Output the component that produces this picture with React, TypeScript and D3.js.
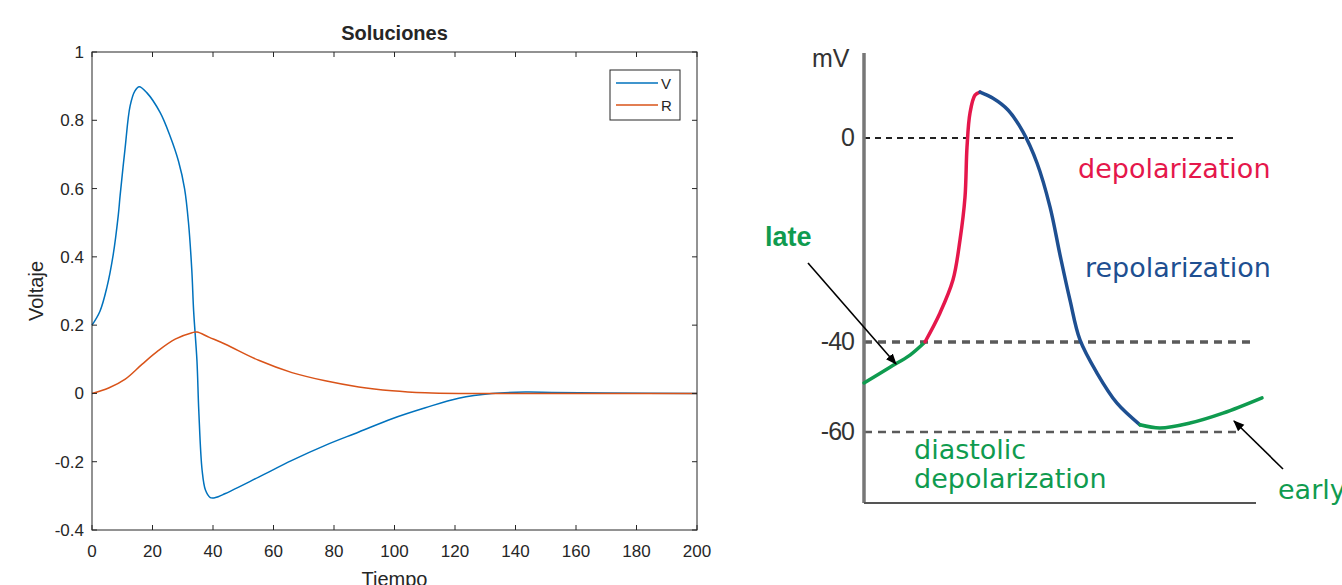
import React from "react";
import * as d3 from "d3";

// ---- left panel: Soluciones (V, R vs Tiempo) ----
const xTicks = [0, 20, 40, 60, 80, 100, 120, 140, 160, 180, 200];
const yTicks = [-0.4, -0.2, 0, 0.2, 0.4, 0.6, 0.8, 1];

const tV = [0, 2.6, 4.9, 7.0, 8.7, 9.3, 10.9, 12.6, 14.2, 15.6, 18.1, 22.5, 25.8, 28.6, 30.6, 31.9, 33.0, 33.6, 34.7, 35.3, 36.4, 37.5, 39.1, 40.8, 44.1, 55.1, 66.1, 77.1, 88.2, 99.2, 110.2, 121.2, 132.2, 143.3, 152, 170, 200];
const vValues = [0.2, 0.24, 0.31, 0.406, 0.523, 0.58, 0.715, 0.842, 0.886, 0.898, 0.881, 0.823, 0.754, 0.68, 0.6, 0.5, 0.36, 0.241, 0.095, -0.05, -0.225, -0.283, -0.305, -0.305, -0.293, -0.245, -0.196, -0.152, -0.113, -0.074, -0.042, -0.014, 0, 0.004, 0.003, 0.001, 0];

const tR = [0, 5.5, 11, 16.5, 22, 27.5, 33.1, 34.7, 38.6, 44.1, 55.1, 66.1, 77.1, 88.2, 99.2, 110.2, 121.2, 140, 200];
const rValues = [0, 0.016, 0.042, 0.085, 0.126, 0.159, 0.178, 0.18, 0.165, 0.144, 0.097, 0.061, 0.037, 0.019, 0.008, 0.002, 0, 0, 0];

const legendItems = ["V", "R"];
const seriesColors = ["#0072BD", "#D95319"];

// ---- right panel: action potential schematic ----
const mvTicks = [0, -40, -60];
const lateT = [0, 6.5, 11.5, 15.25];
const lateMv = [-49.1, -45.6, -42.9, -40];
const depolT = [15.25, 19, 22.25, 24, 25.25, 25.75, 26.5, 27.75, 29];
const depolMv = [-40, -34.3, -27.8, -20, -11.6, -1.8, 4.9, 8.4, 9.0];
const repolT = [29, 32.25, 36, 39.75, 43.25, 46.5, 49, 51.5, 54, 58.25, 63.25, 69];
const repolMv = [9.0, 7.8, 5.5, 1.2, -4.9, -13.5, -22.9, -31.8, -39.6, -46.9, -53.6, -58.4];
const earlyT = [69, 74, 81.5, 89.75, 99.5];
const earlyMv = [-58.4, -59.1, -58.0, -55.8, -52.4];

const RED = "#e5174b";
const BLUE = "#1e4f91";
const GREEN = "#0f9b4f";

const zip = (xs: number[], ys: number[]) => xs.map((x, i) => [x, ys[i]] as [number, number]);

const App = () => {
  // left axes
  const x = d3.scaleLinear().domain([0, 200]).range([92, 697]);
  const y = d3.scaleLinear().domain([-0.4, 1]).range([530, 52]);
  const line = d3
    .line<[number, number]>()
    .x((d) => x(d[0]))
    .y((d) => y(d[1]))
    .curve(d3.curveCatmullRom.alpha(0.5));
  const series = [zip(tV, vValues), zip(tR, rValues)];
  const [x0, x1] = x.range();
  const [yb, yt] = y.range();
  const tickLen = 5;
  const axisColor = "#262626";
  const font = "'Liberation Sans', Arial, sans-serif";

  // right schematic
  const xt = d3.scaleLinear().domain([0, 100]).range([864, 1264]);
  const ym = d3.scaleLinear().domain([-60, -40, 0]).range([432, 342, 138]);
  const apLine = d3
    .line<[number, number]>()
    .x((d) => xt(d[0]))
    .y((d) => ym(d[1]))
    .curve(d3.curveCatmullRom.alpha(0.5));
  const phases = [
    { pts: zip(lateT, lateMv), color: GREEN },
    { pts: zip(depolT, depolMv), color: RED },
    { pts: zip(repolT, repolMv), color: BLUE },
    { pts: zip(earlyT, earlyMv), color: GREEN },
  ];
  const refLines = [
    { mv: 0, end: 1234, color: "#222", width: 1.8, dash: "6,5" },
    { mv: -40, end: 1250, color: "#5a5a5a", width: 3.5, dash: "8,6" },
    { mv: -60, end: 1240, color: "#5a5a5a", width: 2.5, dash: "8,6" },
  ];
  const sans = "'DejaVu Sans', Verdana, sans-serif";

  return (
    <svg
      width={1342}
      height={585}
      style={{ position: "absolute", left: 0, top: 0, background: "#fff" }}
    >
      <defs>
        <marker id="arrow" viewBox="0 0 10 10" refX="9" refY="5" markerWidth="7" markerHeight="7" orient="auto">
          <path d="M0,1 L10,5 L0,9 Z" fill="#000" />
        </marker>
      </defs>

      {/* ---------- left chart ---------- */}
      <g fontFamily={font} fill={axisColor}>
        <text x={(x0 + x1) / 2} y={40} textAnchor="middle" fontWeight="bold" fontSize={20}>
          Soluciones
        </text>
        {series.map((s, i) => (
          <path key={i} d={line(s) || ""} fill="none" stroke={seriesColors[i]} strokeWidth={1.5} />
        ))}
        <rect x={x0} y={yt} width={x1 - x0} height={yb - yt} fill="none" stroke={axisColor} strokeWidth={1} />
        {xTicks.map((t) => (
          <g key={"x" + t}>
            <line x1={x(t)} x2={x(t)} y1={yb} y2={yb - tickLen} stroke={axisColor} />
            <line x1={x(t)} x2={x(t)} y1={yt} y2={yt + tickLen} stroke={axisColor} />
            <text x={x(t)} y={yb + 27} textAnchor="middle" fontSize={17}>
              {String(t)}
            </text>
          </g>
        ))}
        {yTicks.map((t) => (
          <g key={"y" + t}>
            <line x1={x0} x2={x0 + tickLen} y1={y(t)} y2={y(t)} stroke={axisColor} />
            <line x1={x1} x2={x1 - tickLen} y1={y(t)} y2={y(t)} stroke={axisColor} />
            <text x={x0 - 8} y={y(t) + 6} textAnchor="end" fontSize={17}>
              {String(t)}
            </text>
          </g>
        ))}
        <text x={(x0 + x1) / 2} y={586} textAnchor="middle" fontSize={20}>
          Tiempo
        </text>
        <text transform={`translate(43,${(yt + yb) / 2}) rotate(-90)`} textAnchor="middle" fontSize={20}>
          Voltaje
        </text>
        {/* legend */}
        <rect x={610} y={70} width={70} height={50} fill="#fff" stroke={axisColor} strokeWidth={1} />
        {legendItems.map((name, i) => (
          <g key={name}>
            <line x1={616} x2={658} y1={83 + i * 22} y2={83 + i * 22} stroke={seriesColors[i]} strokeWidth={1.5} />
            <text x={661} y={89 + i * 22} fontSize={15}>
              {name}
            </text>
          </g>
        ))}
      </g>

      {/* ---------- right schematic ---------- */}
      <g>
        {refLines.map((r) => (
          <line
            key={r.mv}
            x1={xt(0)}
            x2={r.end}
            y1={ym(r.mv)}
            y2={ym(r.mv)}
            stroke={r.color}
            strokeWidth={r.width}
            strokeDasharray={r.dash}
          />
        ))}
        <line x1={xt(0)} x2={xt(0)} y1={53} y2={503} stroke="#777" strokeWidth={3.5} />
        <line x1={xt(0)} x2={1256} y1={503} y2={503} stroke="#555" strokeWidth={2} />
        {phases.map((p, i) => (
          <path key={i} d={apLine(p.pts) || ""} fill="none" stroke={p.color} strokeWidth={3.5} strokeLinecap="round" />
        ))}
        <g fontFamily={font} fill="#333" fontSize={25}>
          <text x={812} y={67}>mV</text>
          {mvTicks.map((m) => (
            <text key={m} x={854} y={ym(m) + 8} textAnchor="end" letterSpacing={-1}>
              {String(m)}
            </text>
          ))}
        </g>
        <line x1={808} y1={263} x2={896} y2={364} stroke="#000" strokeWidth={1.6} markerEnd="url(#arrow)" />
        <line x1={1283} y1={469} x2={1234} y2={421} stroke="#000" strokeWidth={1.6} markerEnd="url(#arrow)" />
        <g fontFamily={sans} fontSize={27}>
          <text x={1078} y={178} fill={RED}>depolarization</text>
          <text x={1085} y={277} fill={BLUE}>repolarization</text>
          <text x={914} y={459} fill={GREEN}>diastolic</text>
          <text x={914} y={488} fill={GREEN}>depolarization</text>
          <text x={1278} y={499} fill={GREEN}>early</text>
        </g>
        <text x={765} y={246} fill={GREEN} fontFamily={font} fontWeight="bold" fontSize={27}>
          late
        </text>
      </g>
    </svg>
  );
};

export default App;
